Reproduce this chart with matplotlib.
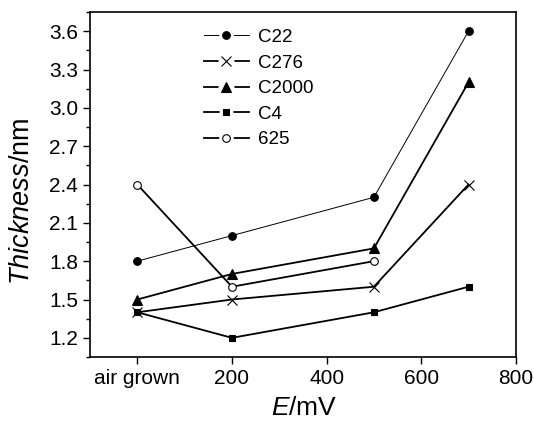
import matplotlib
matplotlib.use('Agg')
import matplotlib.pyplot as plt
from matplotlib.lines import Line2D
from matplotlib.ticker import MultipleLocator, FormatStrFormatter

plt.rcParams['font.family'] = ['Liberation Sans', 'DejaVu Sans']
plt.rcParams['mathtext.fontset'] = 'custom'
plt.rcParams['mathtext.rm'] = 'Liberation Sans'
plt.rcParams['mathtext.it'] = 'Liberation Sans:italic'

# potentials in mV, 0 = air grown
x = [0, 200, 500, 700]
c22 = [1.8, 2.0, 2.3, 3.6]
c276 = [1.4, 1.5, 1.6, 2.4]
c2000 = [1.5, 1.7, 1.9, 3.2]
c4 = [1.4, 1.2, 1.4, 1.6]
x625 = [0, 200, 500]
a625 = [2.4, 1.6, 1.8]

xticks = [0, 200, 400, 600, 800]
xticklabels = ['air grown', '200', '400', '600', '800']

fig = plt.figure(figsize=(5.34, 4.21), dpi=100)
ax = fig.add_axes([0.1685, 0.152, 0.7975, 0.8195])

styles = [
    # label, marker, size, linewidth, face
    ('C22', 'o', 5.5, 0.7, 'k'),
    ('C276', 'x', 6.5, 1.3, 'k'),
    ('C2000', '^', 6.5, 1.3, 'k'),
    ('C4', 's', 5, 1.3, 'k'),
    ('625', 'o', 5.5, 1.3, 'white'),
]
series = [(x, c22), (x, c276), (x, c2000), (x, c4), (x625, a625)]

handles = []
for (lab, m, ms, lw, fc), (xs, ys) in zip(styles, series):
    ax.plot(xs, ys, '-', marker=m, color='k', mfc=fc, lw=lw, ms=ms, mew=0.8)
    # legend entry: line with a small gap around the marker
    handles.append((Line2D([], [], color='k', lw=lw),
                    Line2D([], [], ls='none', marker='o', ms=ms + 4, color='white'),
                    Line2D([], [], ls='none', marker=m, ms=ms, color='k', mfc=fc, mew=0.8)))

ax.set_xlim(-100, 800)
ax.set_ylim(1.05, 3.75)
ax.set_xticks(xticks)
ax.set_xticklabels(xticklabels)
ax.yaxis.set_major_locator(MultipleLocator(0.3))
ax.yaxis.set_minor_locator(MultipleLocator(0.15))
ax.yaxis.set_major_formatter(FormatStrFormatter('%.1f'))

for s in ax.spines.values():
    s.set_linewidth(1.2)
ax.tick_params(axis='both', which='major', length=5, width=1, labelsize=15, direction='out')
ax.tick_params(axis='y', which='minor', length=3, width=1, direction='out')

# axis labels placed by hand to match the original spacing
fig.text(0.570, 0.032, r'$\mathit{E}$/mV', fontsize=19, ha='center', va='center')
fig.text(0.041, 0.523, r'$\mathit{Thickness}$/nm', fontsize=19.5, rotation=90,
         ha='center', va='center')

ax.legend(handles, [s[0] for s in styles], loc='upper left', bbox_to_anchor=(0.228, 1.0),
          frameon=False, fontsize=13.5, handlelength=2.4, handletextpad=0.48,
          labelspacing=0.45)

fig.savefig('out.png', dpi=100)
